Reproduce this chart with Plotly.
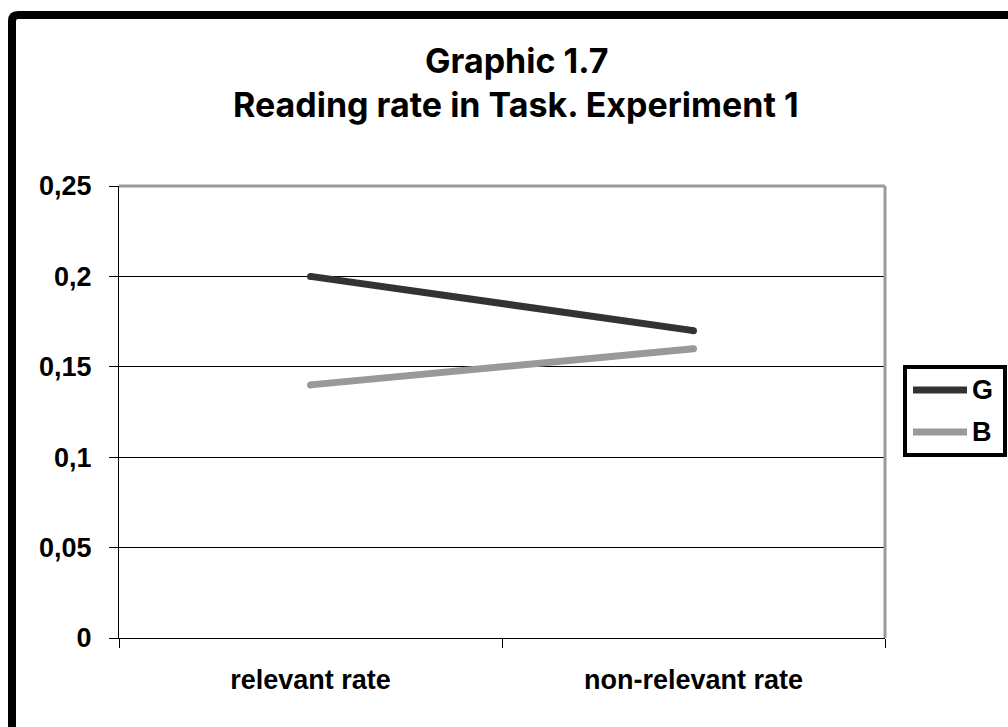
import plotly.graph_objects as go

# Chart data
categories = ["relevant rate", "non-relevant rate"]
series_names = ["G", "B"]
g_values = [0.2, 0.17]
b_values = [0.14, 0.16]
y_ticks = [0, 0.05, 0.1, 0.15, 0.2, 0.25]
y_tick_labels = ["0", "0,05", "0,1", "0,15", "0,2", "0,25"]
title_lines = ["Graphic 1.7", "Reading rate in Task. Experiment 1"]

series_colors = ["#333333", "#999999"]

# Canvas and plot-area geometry (pixels)
W, H = 1008, 727
L, R, T, B = 119, 123, 186, 89
PW, PH = W - L - R, H - T - B


def px(x):
    return (x - L) / PW


def py(y):
    return (H - B - y) / PH


label_font = dict(family="Liberation Sans, Arial, sans-serif", size=27, color="black", weight="bold")
title_font = dict(family="Inter, sans-serif", size=34, color="black", weight="bold")

fig = go.Figure()
for name, vals, col in zip(series_names, [g_values, b_values], series_colors):
    # small round markers give the line ends a rounded cap
    fig.add_trace(go.Scatter(
        x=categories, y=vals, name=name, mode="lines+markers",
        line=dict(color=col, width=7),
        marker=dict(color=col, size=7, line=dict(width=0)),
        showlegend=False,
    ))

shapes = []
# Gray outline on the top and right of the plot area
shapes.append(dict(type="line", xref="paper", yref="paper", x0=0, x1=1, y0=1, y1=1,
                   line=dict(color="#999999", width=3), layer="above"))
shapes.append(dict(type="line", xref="paper", yref="paper", x0=1, x1=1, y0=0, y1=1,
                   line=dict(color="#999999", width=3), layer="above"))

# Thick outer frame with a rounded top-left corner
r = 6
fx0, fy0 = px(12), py(15)
frame_path = (
    f"M {fx0},{py(760)} L {fx0},{py(15 + r)} "
    f"Q {fx0},{fy0} {px(12 + r)},{fy0} L {px(1040)},{fy0}"
)
shapes.append(dict(type="path", xref="paper", yref="paper", path=frame_path,
                   line=dict(color="black", width=8)))

# Legend box
leg_x0, leg_x1, leg_y0, leg_y1 = 905, 1005, 367, 455
shapes.append(dict(type="rect", xref="paper", yref="paper",
                   x0=px(leg_x0), x1=px(leg_x1), y0=py(leg_y1), y1=py(leg_y0),
                   line=dict(color="black", width=4), fillcolor="white"))
annotations = []
leg_rows = [390, 432]
for name, col, yrow in zip(series_names, series_colors, leg_rows):
    shapes.append(dict(type="line", xref="paper", yref="paper",
                       x0=px(913), x1=px(967), y0=py(yrow), y1=py(yrow),
                       line=dict(color=col, width=7)))
    annotations.append(dict(xref="paper", yref="paper", x=px(970), y=py(yrow),
                            xanchor="left", yanchor="middle", text=name,
                            showarrow=False, font=label_font))

# Two-line title
for txt, yc in zip(title_lines, [61, 104]):
    annotations.append(dict(xref="paper", yref="paper", x=px(516), y=py(yc),
                            xanchor="center", yanchor="middle", text=txt,
                            showarrow=False, font=title_font))

fig.update_layout(
    width=W, height=H,
    margin=dict(l=L, r=R, t=T, b=B),
    paper_bgcolor="white", plot_bgcolor="white",
    shapes=shapes, annotations=annotations,
    showlegend=False,
)
fig.update_xaxes(
    type="category", range=[-0.5, 1.5], tickson="boundaries",
    ticks="outside", ticklen=9, tickwidth=1, tickcolor="black",
    showline=True, linecolor="black", linewidth=1,
    showgrid=False, zeroline=False,
    tickfont=label_font, ticklabelstandoff=18,
)
fig.update_yaxes(
    range=[0, 0.25], tickvals=y_ticks, ticktext=y_tick_labels,
    ticks="outside", ticklen=9, tickwidth=1, tickcolor="black",
    showline=True, linecolor="black", linewidth=1,
    showgrid=True, gridcolor="black", gridwidth=1, zeroline=False,
    tickfont=label_font, ticklabelstandoff=12,
)

fig.write_html("out.html")
